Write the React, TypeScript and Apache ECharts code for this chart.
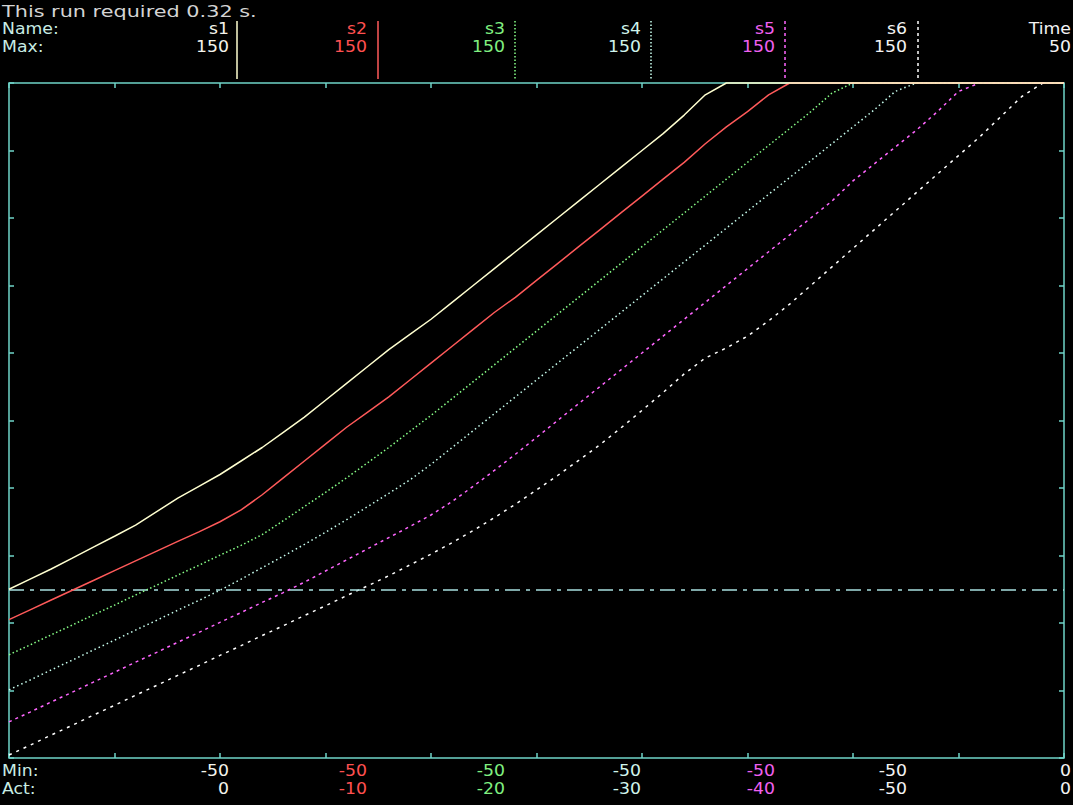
import React, { useEffect, useRef } from "react";
import * as echarts from "echarts";

const times = [0,1,2,3,4,5,6,7,8,9,10,11,12,13,14,15,16,17,18,19,20,21,22,23,24,25,26,27,28,29,30,31,32,33,34,35,36,37,38,39,40,41,42,43,44,45,46,47,48,49,50];

const s1 = [0,3,6,9.2,12.5,15.7,19,23,27,30.5,34,38,42,46.5,51,56,61,66,71,75.5,80,85,90,95,100,105,110,115,120,125,130,135,140.5,146.5,150,150,150,150,150,150,150,150,150,150,150,150,150,150,150,150,150];
const s2 = [-9,-6.1,-3.2,-0.3,2.6,5.5,8.4,11.3,14.2,17,20,23.5,28,33,38,43,48,52.5,57,62,67,72,77,82,86.5,91.5,96.5,101.5,106.5,111.5,116.5,121.5,126.5,132,137,141.5,146.5,150,150,150,150,150,150,150,150,150,150,150,150,150,150];
const s3 = [-19.4,-16.5,-13.5,-10.6,-7.6,-4.7,-1.7,1.2,4.2,7.1,10.1,13,16.2,20.3,24.5,28.7,33,37.5,42,46.8,51.5,56.5,61.5,66.5,71.5,76.5,81.5,86.5,91.5,96.5,101.5,106.5,111.5,116.5,121.5,126.5,131.5,136.5,141.5,147,150,150,150,150,150,150,150,150,150,150,150];
const s4 = [-29.8,-26.9,-23.9,-21,-18,-15.1,-12.1,-9.2,-6.2,-3.3,-0.3,3,6.4,9.8,13.3,16.9,20.6,24.5,28.4,32.4,37,42,47,52,57,62,67,72,77,82,87,92,97,102,107,112,117,122,127,132,137,142,147.5,150,150,150,150,150,150,150,150];
const s5 = [-39.3,-36.4,-33.4,-30.5,-27.5,-24.6,-21.6,-18.7,-15.7,-12.8,-9.8,-6.9,-3.9,-1,2.1,5.4,8.7,12,15.3,18.6,22,26,30.5,35.2,40,45,50,55,60,65,70,75,80,85,90,95,100,105,110,115,121,126,131,136,141.5,147.5,150,150,150,150,150];
const s6 = [-49.1,-46.2,-43.2,-40.3,-37.3,-34.4,-31.4,-28.5,-25.5,-22.6,-19.6,-16.7,-13.7,-10.8,-7.8,-4.9,-1.9,1,4,7.2,10.4,13.8,17.4,21.2,25.2,29.4,33.7,38.2,42.8,47.8,53,58.3,63.8,68.5,71.5,75,79.5,84.5,90,95.5,101,106.5,112,117.5,123,128.5,134,140,146,150,150];

const seriesNames = ["s1", "s2", "s3", "s4", "s5", "s6"];
const maxValues = ["150", "150", "150", "150", "150", "150"];
const minValues = ["-50", "-50", "-50", "-50", "-50", "-50"];
const actValues = ["0", "-10", "-20", "-30", "-40", "-50"];
const timeLabel = "Time";
const timeMax = "50";
const timeMin = "0";
const timeAct = "0";
const runText = "This run required 0.32 s.";
const rowLabels = ["Name:", "Max:", "Min:", "Act:"];

const allSeries = [s1, s2, s3, s4, s5, s6];

const lineColors = ["#ffffd0", "#ff5a5a", "#88ff88", "#c8fff0", "#ff66ff", "#ffffff"];
const textColors = ["#f4f4ec", "#ff5050", "#80f080", "#d0f4ec", "#f060f0", "#f4f4f4"];
const dashes: any[] = ["solid", "solid", [1.5, 2.5], [1.5, 3], [3, 4], [3, 5]];
const sepDashes: any[] = [null, null, [1.5, 2], [1.5, 2], [3, 3], [3, 3]];
const colRight = [229, 367, 505, 641, 775, 907];
const sepX = [237, 378, 515, 651, 785, 918];

const FONT = "DejaVu Sans";
const FS = 16;
const labelColor = "#c8ece4";
const frameColor = "#6fd4c8";
const rowY = [11, 29, 47, 771, 789];

function txt(text: string, x: number, y: number, fill: string, align: string, sx = 1.08) {
  return {
    type: "text",
    x,
    y,
    scaleX: sx,
    silent: true,
    style: { text, fill, fontSize: FS, fontFamily: FONT, align, verticalAlign: "middle" },
  };
}

export default function App() {
  const ref = useRef<HTMLDivElement>(null);
  useEffect(() => {
    if (!ref.current) return;
    const chart = echarts.init(ref.current, null, { renderer: "svg" });
    const graphics: any[] = [];
    graphics.push(txt(runText, 2, rowY[0], "#d4d4d4", "left", 1.3));
    graphics.push(txt(rowLabels[0], 2, rowY[1], labelColor, "left"));
    graphics.push(txt(rowLabels[1], 2, rowY[2], labelColor, "left"));
    graphics.push(txt(rowLabels[2], 2, rowY[3], labelColor, "left"));
    graphics.push(txt(rowLabels[3], 2, rowY[4], labelColor, "left"));
    seriesNames.forEach((n, i) => {
      graphics.push(txt(n, colRight[i], rowY[1], textColors[i], "right"));
      graphics.push(txt(maxValues[i], colRight[i], rowY[2], textColors[i], "right"));
      graphics.push(txt(minValues[i], colRight[i], rowY[3], textColors[i], "right"));
      graphics.push(txt(actValues[i], colRight[i], rowY[4], textColors[i], "right"));
      graphics.push({
        type: "line",
        silent: true,
        shape: { x1: sepX[i], y1: 21, x2: sepX[i], y2: 79 },
        style: { stroke: lineColors[i], lineWidth: 1.5, lineDash: sepDashes[i] },
      });
    });
    graphics.push(txt(timeLabel, 1071, rowY[1], "#f4f4f4", "right"));
    graphics.push(txt(timeMax, 1071, rowY[2], "#f4f4f4", "right"));
    graphics.push(txt(timeMin, 1071, rowY[3], "#f4f4f4", "right"));
    graphics.push(txt(timeAct, 1071, rowY[4], "#f4f4f4", "right"));

    const tickAxis = {
      axisLabel: { show: false },
      splitLine: { show: false },
      axisLine: { show: false, onZero: false },
      axisTick: { show: true, inside: true, length: 5, lineStyle: { color: frameColor, width: 1.5 } },
    };

    chart.setOption({
      animation: false,
      backgroundColor: "#000000",
      grid: {
        left: 9,
        right: 9,
        top: 83,
        bottom: 47,
        show: true,
        borderColor: frameColor,
        borderWidth: 1.5,
        backgroundColor: "#000000",
      },
      xAxis: [
        { type: "value", min: 0, max: 50, interval: 5, position: "bottom", ...tickAxis },
        { type: "value", min: 0, max: 50, interval: 5, position: "top", ...tickAxis },
      ],
      yAxis: [
        { type: "value", min: -50, max: 150, show: false },
        { type: "value", min: 0, max: 200, interval: 20, position: "left", ...tickAxis },
        { type: "value", min: 0, max: 200, interval: 20, position: "right", ...tickAxis },
      ],
      series: allSeries.map((vals, i) => ({
        type: "line",
        name: seriesNames[i],
        xAxisIndex: 0,
        yAxisIndex: 0,
        showSymbol: false,
        symbol: "none",
        clip: false,
        z: 9 - i,
        data: times.map((t, k) => [t, vals[k]]),
        lineStyle: { color: lineColors[i], width: 1.5, type: dashes[i] },
        markLine:
          i === 0
            ? {
                silent: true,
                symbol: "none",
                label: { show: false },
                lineStyle: { color: "#a8e0e0", width: 1.5, type: [15, 6, 4, 6] },
                data: [{ yAxis: 0 }],
              }
            : undefined,
      })),
      graphic: graphics,
    });
    return () => chart.dispose();
  }, []);
  return (
    <div
      ref={ref}
      style={{ position: "absolute", left: 0, top: 0, width: 1073, height: 805, background: "#000" }}
    />
  );
}
